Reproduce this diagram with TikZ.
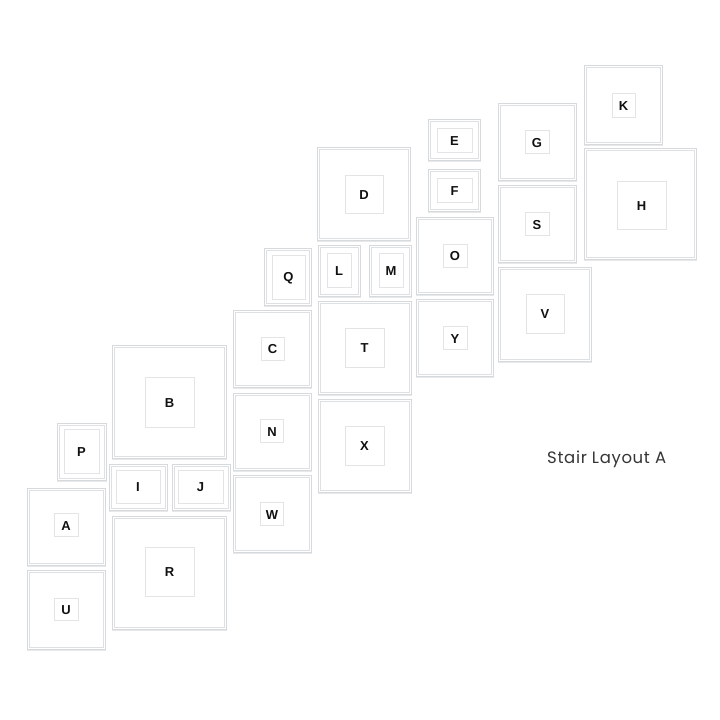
\documentclass[tikz,border=0pt]{standalone}
\usepackage{fontspec}
\setmainfont{Liberation Sans}
\newfontfamily\titlefont[LetterSpace=4]{Poppins}
\definecolor{framec}{HTML}{D6DADD}
\definecolor{framei}{HTML}{DEE1E3}
\definecolor{shadowc}{HTML}{E6E8EA}
\definecolor{matc}{HTML}{E3E4E5}
\definecolor{txtc}{HTML}{111111}
\tikzset{
  frm/.style={draw=framec, line width=0.9pt, inner sep=0pt, fill=white},
  frmin/.style={draw=framei, line width=0.7pt, inner sep=0pt},
  shadowline/.style={draw=shadowc, line width=1pt},
  mat/.style={draw=matc, line width=0.7pt, inner sep=0pt, font=\fontsize{13}{13}\selectfont\bfseries, text=txtc}
}
\newcommand\wframe[9]{%
  \node[frm, minimum width=#4pt, minimum height=#5pt] (f#1) at (#2,#3) {};
  \draw[shadowline] ([yshift=-1pt]f#1.south west) -- ([yshift=-1pt]f#1.south east);
  \node[frmin, minimum width=#4pt-4pt, minimum height=#5pt-4pt] (g#1) at (#2,#3) {};
  \node[mat, minimum width=#8pt, minimum height=#9pt] (#1) at (#6,#7) {};
  \node[font=\fontsize{13}{13}\selectfont\bfseries, text=txtc, inner sep=0pt] (t#1) at ([yshift=-0.8pt]#1.center) {#1};
}
\begin{document}
\begin{tikzpicture}[x=1pt,y=-1pt]
\useasboundingbox (0,0) rectangle (720,720);
\fill[white] (0,0) rectangle (720,720);
% name, cx, cy, W, H, mcx, mcy, mw, mh
\wframe{P}{82}{452}{49}{57}{81.5}{451}{35}{44}
\wframe{A}{66.5}{527}{78}{77}{66}{525}{24}{23}
\wframe{U}{66.5}{610}{78}{79}{66}{609}{24}{22}
\wframe{I}{138.5}{487.5}{58}{46}{138}{486.5}{44}{33}
\wframe{J}{201.5}{487.5}{58}{46}{200.5}{486.5}{45}{33}
\wframe{R}{169.5}{573}{114}{113}{169.5}{571.5}{49}{49}
\wframe{B}{169.5}{402}{114}{113}{169.5}{402}{49}{50}
\wframe{C}{272.5}{349}{78}{77}{272.5}{348.5}{23}{23}
\wframe{N}{272.5}{432}{78}{77}{272}{431}{23}{23}
\wframe{W}{272.5}{514}{78}{77}{272}{514}{23}{23}
\wframe{Q}{288}{277}{47}{57}{288.5}{277}{33}{44}
\wframe{L}{339.5}{271}{42}{51}{339}{270}{24}{34}
\wframe{M}{390.5}{271}{42}{51}{391}{270}{24}{34}
\wframe{D}{364}{194}{93}{93}{364}{194}{38}{38}
\wframe{T}{365}{348}{93}{93}{364.5}{347.5}{39}{39}
\wframe{X}{365}{446}{93}{93}{364.5}{445.5}{39}{39}
\wframe{E}{454.5}{140}{52}{41}{454.5}{140}{35}{24}
\wframe{F}{454.5}{190.5}{52}{42}{454.5}{190}{35}{24}
\wframe{O}{455}{256}{77}{77}{455}{255.5}{24}{23}
\wframe{Y}{455}{338}{77}{77}{455}{338}{24}{23}
\wframe{G}{537.5}{142}{78}{77}{537}{142}{24}{23}
\wframe{S}{537.5}{224}{78}{77}{537}{224}{24}{23}
\wframe{V}{545}{314.5}{93}{94}{545}{313.5}{38}{39}
\wframe{K}{623.5}{105}{78}{79}{623.5}{105}{23}{24}
\wframe{H}{640.5}{204}{112}{111}{641.5}{205}{49}{48}
\node[anchor=west, inner sep=0pt, text=txtc!85, font=\titlefont\fontsize{16.5}{16.5}\selectfont] (title) at (547,459) {Stair Layout A};
\end{tikzpicture}
\end{document}
